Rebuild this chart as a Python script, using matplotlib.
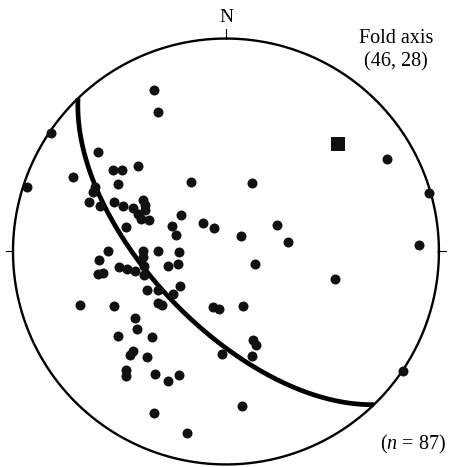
import numpy as np
import matplotlib
matplotlib.use("Agg")
import matplotlib.pyplot as plt

plt.rcParams["font.family"] = ["Liberation Serif", "DejaVu Serif"]
plt.rcParams["mathtext.fontset"] = "custom"
plt.rcParams["mathtext.rm"] = "Liberation Serif"
plt.rcParams["mathtext.it"] = "Liberation Serif:italic"

# poles (trend, plunge) in degrees, lower hemisphere
trend = [336, 334, 304, 288, 60, 74, 88, 124, 104, 21, 62, 81, 44, 113, 163,
         163, 162, 166, 174, 193, 187, 182, 192, 204, 308, 296, 306, 308, 314,
         302, 333, 296, 294, 290, 290, 294, 294, 295, 293, 291, 302, 300, 297,
         292, 284, 295, 309, 322, 332, 288, 270, 266, 260, 260, 262, 260, 258,
         270, 266, 260, 254, 270, 269, 256, 256, 233, 244, 240, 231, 233, 230,
         250, 244, 234, 229, 221, 232, 223, 223, 217, 220, 219, 210, 204, 201]
plunge = [18, 28, 1, 2, 14, 1, 10, 0, 46, 62, 68, 66, 82, 78, 68,
          54, 52, 48, 28, 68, 68, 50, 14, 18, 25, 21, 35, 38, 42,
          40, 60, 32, 32, 32, 37, 42, 46, 50, 53, 55, 52, 54, 55,
          58, 50, 67, 68, 76, 80, 70, 44, 40, 39, 41, 48, 51, 54,
          58, 58, 58, 57, 64, 72, 71, 67, 68, 56, 60, 64, 57, 58,
          28, 41, 46, 44, 46, 36, 36, 34, 38, 28, 26, 34, 34, 38]

fold_trend, fold_plunge = 46, 28
# best-fit girdle: plane normal to the fold axis
girdle_dipdir = (fold_trend + 180) % 360
girdle_dip = 90 - fold_plunge
n_total = 87


def schmidt(tr, pl):
    tr = np.radians(np.asarray(tr, dtype=float))
    pl = np.radians(np.asarray(pl, dtype=float))
    r = np.sqrt(2) * np.sin((np.pi / 2 - pl) / 2)
    return r * np.sin(tr), r * np.cos(tr)


def great_circle(dipdir, dip, num=200):
    dd = np.radians(dipdir)
    d = np.radians(dip)
    st = dd - np.pi / 2
    s_vec = np.array([np.sin(st), np.cos(st), 0.0])
    d_vec = np.array([np.cos(d) * np.sin(dd), np.cos(d) * np.cos(dd), -np.sin(d)])
    t = np.linspace(0, np.pi, num)
    v = np.outer(np.cos(t), s_vec) + np.outer(np.sin(t), d_vec)
    pl = np.degrees(np.arcsin(np.clip(-v[:, 2], -1, 1)))
    tr = np.degrees(np.arctan2(v[:, 0], v[:, 1])) % 360
    return schmidt(tr, pl)


fig = plt.figure(figsize=(4.5, 4.67), dpi=100)
ax = fig.add_axes([0, 0, 1, 1])
ax.set_xlim(-1.061, 1.052)
ax.set_ylim(-1.012, 1.181)
ax.axis("off")

# primitive circle and ticks
th = np.linspace(0, 2 * np.pi, 400)
ax.plot(np.cos(th), np.sin(th), color="black", lw=1.7)
ax.plot([0, 0], [1.0, 1.045], color="black", lw=0.8)
ax.plot([-1.0, -1.035], [0, 0], color="black", lw=0.8)
ax.plot([1.0, 1.035], [0, 0], color="black", lw=0.8)
ax.text(0.0, 1.10, "N", ha="center", va="center", fontsize=14)

gx, gy = great_circle(girdle_dipdir, girdle_dip)
ax.plot(gx, gy, color="black", lw=3.4, solid_capstyle="butt")

px, py = schmidt(trend, plunge)
ax.plot(px, py, "o", color="#111111", markersize=7.2, markeredgewidth=0)

fx, fy = schmidt(fold_trend, fold_plunge)
ax.plot(fx, fy, "s", color="#111111", markersize=9.5, markeredgewidth=0)

ax.text(0.80, 1.00, "Fold axis", ha="center", va="center", fontsize=14.5)
ax.text(0.80, 0.89, f"({fold_trend}, {fold_plunge})", ha="center", va="center", fontsize=14.5)
ax.text(0.88, -0.905, f"($n$ = {n_total})", ha="center", va="center", fontsize=14.5)

fig.savefig("out.png", dpi=100)
